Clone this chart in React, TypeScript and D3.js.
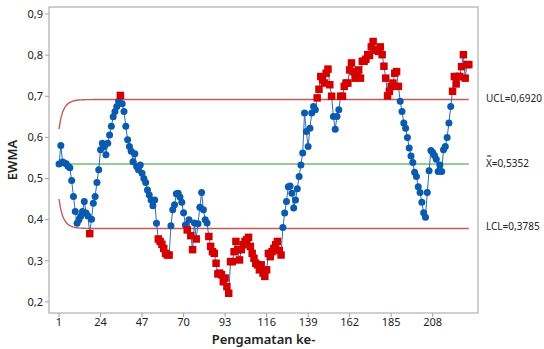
import React from "react";
import * as d3 from "d3";

// EWMA statistic for each observation
const ewmaValues: number[] = [
  0.535, 0.580, 0.540, 0.538, 0.536, 0.530, 0.526, 0.495, 0.456, 0.420,
  0.391, 0.400, 0.408, 0.420, 0.444, 0.416, 0.409, 0.366, 0.401, 0.440,
  0.456, 0.490, 0.521, 0.570, 0.586, 0.578, 0.558, 0.586, 0.606, 0.627,
  0.650, 0.663, 0.675, 0.687, 0.702, 0.682, 0.663, 0.627, 0.594, 0.578,
  0.566, 0.541, 0.560, 0.529, 0.521, 0.533, 0.513, 0.500, 0.490, 0.472,
  0.460, 0.448, 0.434, 0.448, 0.391, 0.353, 0.347, 0.340, 0.330, 0.318,
  0.314, 0.314, 0.385, 0.424, 0.436, 0.463, 0.464, 0.455, 0.442, 0.417,
  0.387, 0.375, 0.400, 0.361, 0.327, 0.392, 0.353, 0.390, 0.430, 0.466,
  0.424, 0.400, 0.392, 0.359, 0.335, 0.322, 0.318, 0.294, 0.268, 0.270,
  0.266, 0.249, 0.258, 0.237, 0.221, 0.298, 0.298, 0.322, 0.347, 0.327,
  0.302, 0.327, 0.339, 0.347, 0.351, 0.357, 0.335, 0.318, 0.306, 0.294,
  0.290, 0.278, 0.290, 0.270, 0.262, 0.278, 0.318, 0.310, 0.322, 0.330,
  0.339, 0.347, 0.325, 0.314, 0.381, 0.416, 0.444, 0.480, 0.482, 0.464,
  0.428, 0.448, 0.475, 0.505, 0.533, 0.562, 0.659, 0.614, 0.578, 0.622,
  0.659, 0.675, 0.667, 0.696, 0.717, 0.748, 0.740, 0.732, 0.756, 0.766,
  0.728, 0.700, 0.651, 0.620, 0.651, 0.667, 0.700, 0.700, 0.724, 0.732,
  0.732, 0.764, 0.781, 0.760, 0.744, 0.756, 0.764, 0.744, 0.785, 0.785,
  0.790, 0.801, 0.799, 0.820, 0.833, 0.813, 0.812, 0.809, 0.820, 0.801,
  0.773, 0.744, 0.701, 0.712, 0.724, 0.732, 0.756, 0.760, 0.724, 0.688,
  0.663, 0.635, 0.622, 0.600, 0.574, 0.555, 0.539, 0.515, 0.505, 0.480,
  0.466, 0.442, 0.417, 0.406, 0.466, 0.519, 0.568, 0.563, 0.556, 0.547,
  0.517, 0.533, 0.517, 0.570, 0.578, 0.600, 0.635, 0.675, 0.712, 0.748,
  0.730, 0.748, 0.748, 0.772, 0.801, 0.744, 0.777, 0.777,
];

const xTickValues = [1, 24, 47, 70, 93, 116, 139, 162, 185, 208];
const yTickValues = [0.2, 0.3, 0.4, 0.5, 0.6, 0.7, 0.8, 0.9];

// Control limits (steady state) and smoothing weight
const UCL = 0.692;
const CENTER = 0.5352;
const LCL = 0.3785;
const LAMBDA = 0.16;

const WIDTH = 544;
const HEIGHT = 349;
const FRAME = { left: 49, right: 478, top: 7, bottom: 313 };

const FONT = "'Segoe UI', 'Noto Sans', 'Open Sans', sans-serif";
const BLUE = "#0A5BAD";
const LINE_BLUE = "#2C6DB8";
const RED = "#D40000";
const LIMIT_RED = "#C45A5A";
const GREEN = "#6FBF6F";
const AXIS_GRAY = "#A0A0A0";
const TEXT = "#222222";

const fmt = (v: number, d: number) => v.toFixed(d).replace(".", ",");

export default function App() {
  const n = ewmaValues.length;
  const x = d3.scaleLinear().domain([-4.55, 233.1]).range([FRAME.left, FRAME.right]);
  const y = d3.scaleLinear().domain([0.173, 0.917]).range([FRAME.bottom, FRAME.top]);

  const points = ewmaValues.map((v, k) => ({ i: k + 1, v }));

  // Time-varying EWMA limits
  const halfUp = UCL - CENTER;
  const halfDn = CENTER - LCL;
  const factor = (i: number) => Math.sqrt(1 - Math.pow(1 - LAMBDA, 2 * i));
  const limits = points.map((p) => ({
    i: p.i,
    up: CENTER + halfUp * factor(p.i),
    dn: CENTER - halfDn * factor(p.i),
  }));

  const upperPath = d3.line<{ i: number; up: number }>().x((d) => x(d.i)).y((d) => y(d.up))(limits) || "";
  const lowerPath = d3.line<{ i: number; dn: number }>().x((d) => x(d.i)).y((d) => y(d.dn))(limits) || "";
  const seriesPath = d3.line<{ i: number; v: number }>().x((d) => x(d.i)).y((d) => y(d.v))(points) || "";

  const outOfControl = (p: { i: number; v: number }) => {
    const l = limits[p.i - 1];
    return p.v > l.up || p.v < l.dn;
  };

  const sq = 7.5;

  return (
    <svg
      width={WIDTH}
      height={HEIGHT}
      style={{ position: "absolute", left: 0, top: 0, background: "#fff" }}
      fontFamily={FONT}
    >
      <rect x={0} y={0} width={WIDTH} height={HEIGHT} fill="#fff" />

      {/* frame */}
      <rect
        x={FRAME.left}
        y={FRAME.top}
        width={FRAME.right - FRAME.left}
        height={FRAME.bottom - FRAME.top}
        fill="none"
        stroke={AXIS_GRAY}
        strokeWidth={1}
      />

      {/* y axis ticks */}
      {yTickValues.map((t) => (
        <g key={"y" + t}>
          <line x1={FRAME.left - 4} x2={FRAME.left} y1={y(t)} y2={y(t)} stroke={AXIS_GRAY} />
          <text x={FRAME.left - 6} y={y(t)} dy="0.35em" textAnchor="end" fontSize={11} fill={TEXT}>
            {fmt(t, 1)}
          </text>
        </g>
      ))}

      {/* x axis ticks */}
      {xTickValues.map((t) => (
        <g key={"x" + t}>
          <line x1={x(t)} x2={x(t)} y1={FRAME.bottom} y2={FRAME.bottom + 4} stroke={AXIS_GRAY} />
          <text x={x(t)} y={FRAME.bottom + 13} textAnchor="middle" fontSize={11} fill={TEXT}>
            {t}
          </text>
        </g>
      ))}

      {/* axis titles */}
      <text
        x={(FRAME.left + FRAME.right) / 2}
        y={344}
        textAnchor="middle"
        fontSize={13}
        fontWeight={600}
        fill={TEXT}
      >
        Pengamatan ke-
      </text>
      <text
        transform={`translate(17, ${(FRAME.top + FRAME.bottom) / 2}) rotate(-90)`}
        textAnchor="middle"
        fontSize={13}
        fontWeight={600}
        fill={TEXT}
      >
        EWMA
      </text>

      {/* center and control limits */}
      <line x1={x(1)} x2={x(n)} y1={y(CENTER)} y2={y(CENTER)} stroke={GREEN} strokeWidth={1.5} />
      <path d={upperPath} fill="none" stroke={LIMIT_RED} strokeWidth={1.4} />
      <path d={lowerPath} fill="none" stroke={LIMIT_RED} strokeWidth={1.4} />

      {/* EWMA series */}
      <path d={seriesPath} fill="none" stroke={LINE_BLUE} strokeWidth={1} />
      {points.map((p) =>
        outOfControl(p) ? (
          <rect key={p.i} x={x(p.i) - sq / 2} y={y(p.v) - sq / 2} width={sq} height={sq} fill={RED} />
        ) : (
          <circle key={p.i} cx={x(p.i)} cy={y(p.v)} r={3.5} fill={BLUE} />
        )
      )}

      {/* limit labels */}
      <text x={486} y={y(UCL) + 2} fontSize={10} fill={TEXT}>
        {"UCL=" + fmt(UCL, 4)}
      </text>
      <text x={486} y={y(CENTER) + 3} fontSize={10} fill={TEXT}>
        {"X\u033F=" + fmt(CENTER, 4)}
      </text>
      <text x={486} y={y(LCL) + 2} fontSize={10} fill={TEXT}>
        {"LCL=" + fmt(LCL, 4)}
      </text>
    </svg>
  );
}
